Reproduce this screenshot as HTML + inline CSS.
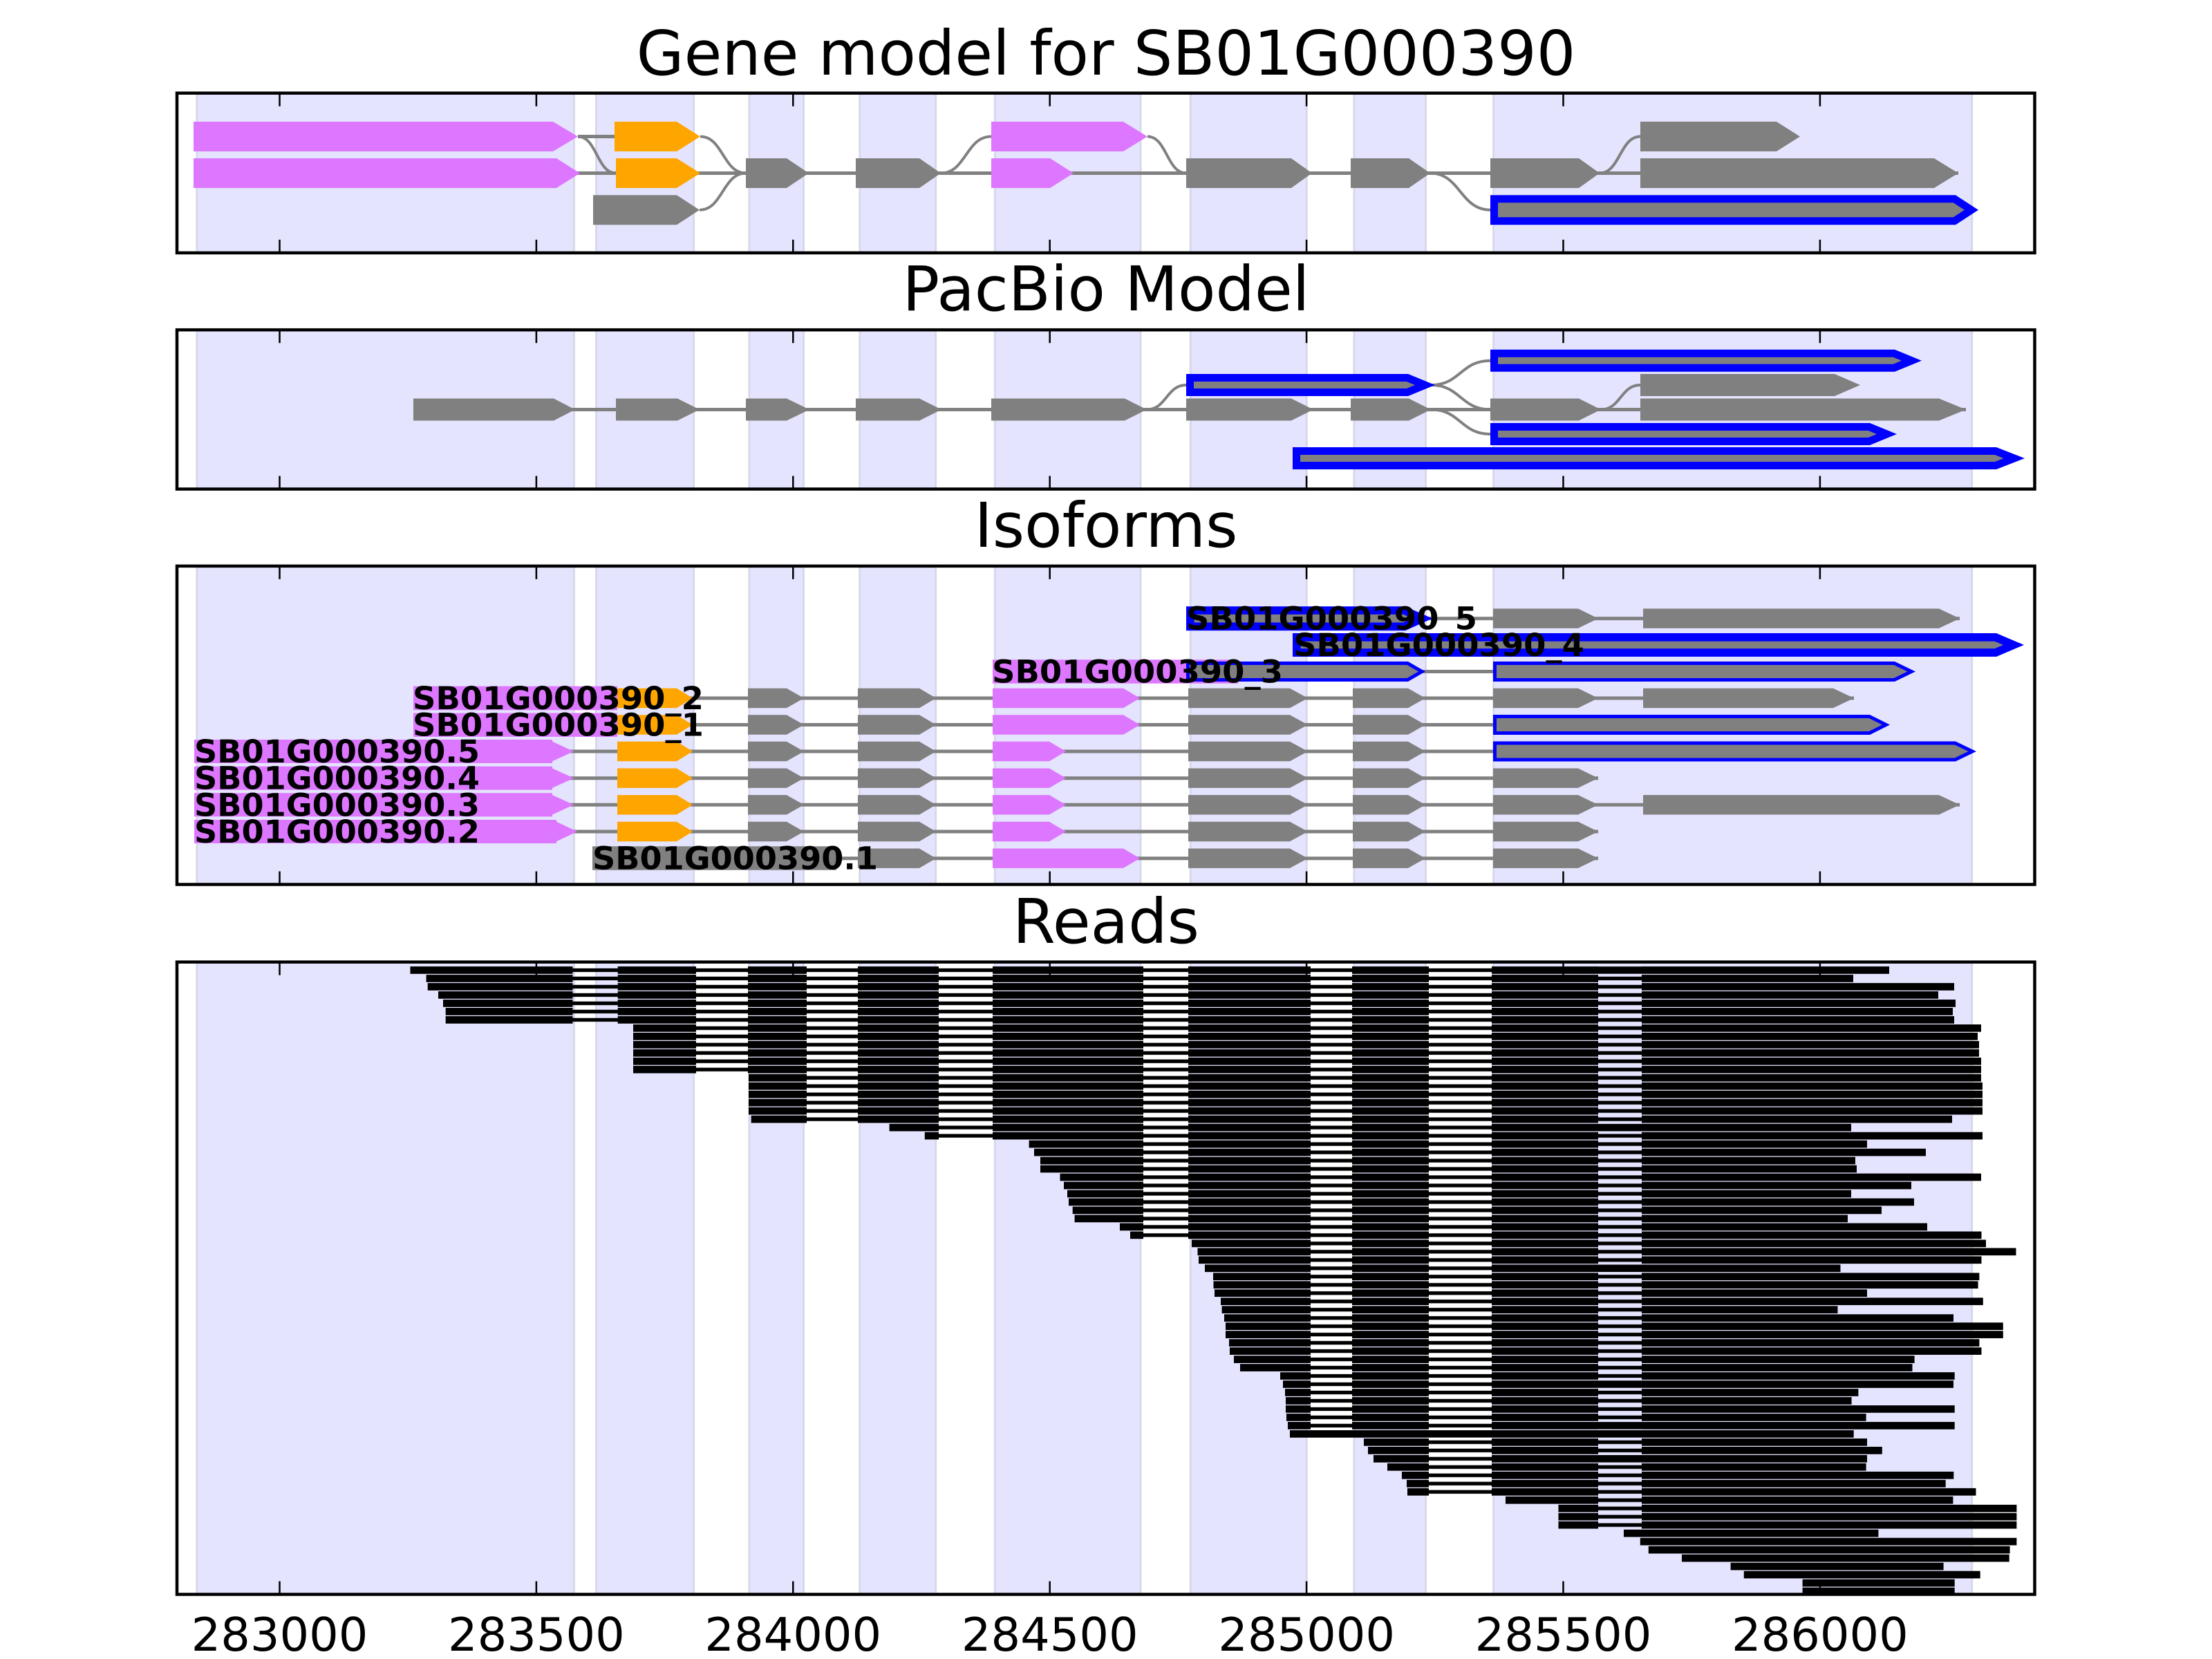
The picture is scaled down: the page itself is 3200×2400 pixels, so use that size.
<!DOCTYPE html>
<html><head><meta charset="utf-8"><style>html,body{margin:0;padding:0;background:#fff}svg{display:block}</style></head>
<body>
<svg xmlns="http://www.w3.org/2000/svg" width="3200" height="2400" viewBox="0 0 3200 2400">
<defs>
<g id="bands" fill="#e4e4fe" stroke="#d8d8ec" stroke-width="3">
<rect x="284.8" y="0" width="545.6" height="2400"/>
<rect x="862.5" y="0" width="141.1" height="2400"/>
<rect x="1083.9" y="0" width="78.6" height="2400"/>
<rect x="1243.8" y="0" width="109.8" height="2400"/>
<rect x="1439.3" y="0" width="210.7" height="2400"/>
<rect x="1722.3" y="0" width="167.9" height="2400"/>
<rect x="1958.9" y="0" width="103.6" height="2400"/>
<rect x="2160.7" y="0" width="692" height="2400"/>
</g>
<clipPath id="c1"><rect x="256" y="134.7" width="2687.5" height="231.1"/></clipPath>
<clipPath id="c2"><rect x="256" y="477.2" width="2687.5" height="230.3"/></clipPath>
<clipPath id="c3"><rect x="256" y="818.9" width="2687.5" height="460.6"/></clipPath>
<clipPath id="c4"><rect x="256" y="1391.7" width="2687.5" height="914.8"/></clipPath>
<g id="isoG" fill="#808080">
<polygon points="1082,-14.2 1138,-14.2 1163,0 1138,14.2 1082,14.2"/>
<polygon points="1241,-14.2 1330,-14.2 1354,0 1330,14.2 1241,14.2"/>
<polygon points="1719,-14.2 1866,-14.2 1892,0 1866,14.2 1719,14.2"/>
<polygon points="1957,-14.2 2037,-14.2 2062,0 2037,14.2 1957,14.2"/>
</g>
<polygon id="isoO" fill="#ffa500" points="893,-14.2 979,-14.2 1002,0 979,14.2 893,14.2"/>
<polygon id="isoML" fill="#dd77ff" points="1436,-14.2 1625,-14.2 1649,0 1625,14.2 1436,14.2"/>
<polygon id="isoMS" fill="#dd77ff" points="1436,-14.2 1518,-14.2 1542,0 1518,14.2 1436,14.2"/>
<polygon id="isoG8" fill="#808080" points="2160,-14.2 2283,-14.2 2312,0 2283,14.2 2160,14.2"/>
<pattern id="ip" patternUnits="userSpaceOnUse" x="0" y="1397.51" width="50" height="11.98">
<rect width="50" height="11.98" fill="#000"/>
<rect y="3.34" width="50" height="5.3" fill="#fff"/>
</pattern>
<mask id="rm" maskUnits="userSpaceOnUse" x="0" y="0" width="3200" height="2400">
<rect width="3200" height="2400" fill="#fff"/>
<rect x="828.5" y="1397.51" width="65.2" height="83.86" fill="url(#ip)"/>
<rect x="1007" y="1397.51" width="75" height="155.74" fill="url(#ip)"/>
<rect x="1167" y="1397.51" width="74" height="227.62" fill="url(#ip)"/>
<rect x="1358" y="1397.51" width="78" height="251.58" fill="url(#ip)"/>
<rect x="1654" y="1397.51" width="65" height="395.34" fill="url(#ip)"/>
<rect x="1896" y="1397.51" width="60" height="670.88" fill="url(#ip)"/>
<rect x="2067" y="1397.51" width="91" height="766.72" fill="url(#ip)"/>
<rect x="2312" y="1397.51" width="63" height="814.64" fill="url(#ip)"/>
<g fill="#fff">
<rect x="2067" y="2069.03" width="91" height="10.7"/>
<rect x="2312" y="1398.15" width="63" height="10.7"/>
<rect x="2312" y="1625.77" width="63" height="10.7"/>
<rect x="2312" y="1829.43" width="63" height="10.7"/>
<rect x="2312" y="1997.15" width="63" height="10.7"/>
<rect x="2312" y="2057.05" width="63" height="10.7"/>
<rect x="2312" y="2069.03" width="63" height="10.7"/>
<rect x="2312" y="2104.97" width="63" height="10.7"/>
</g>
</mask>
</defs>
<rect width="3200" height="2400" fill="#fff"/>

<g font-family="DejaVu Sans, sans-serif" font-size="89" text-anchor="middle" fill="#000">
<text x="1600" y="108">Gene model for SB01G000390</text>
<text x="1600" y="449">PacBio Model</text>
<text x="1600" y="791">Isoforms</text>
<text x="1600" y="1364">Reads</text>
</g>

<use href="#bands" clip-path="url(#c1)"/>
<g fill="none" stroke="#808080">
<path stroke-width="5" d="M836 197.5H889M280 250.5H2833"/>
<path stroke-width="4" d="M836 197.5C863.5 197.5 863.5 250.5 891 250.5M1013 197.5C1046 197.5 1046 250.5 1079 250.5M1012 303.7C1045.5 303.7 1045.5 250.5 1079 250.5M1361 250.5C1397.5 250.5 1397.5 197.5 1434 197.5M1660 197.5C1688 197.5 1688 250.5 1716 250.5M2069 250.5C2112.5 250.5 2112.5 303.7 2156 303.7M2314 250.5C2343.5 250.5 2343.5 197.5 2373 197.5"/>
</g>
<polygon fill="#dd77ff" points="280,176 800,176 836,197.5 800,219 280,219"/>
<polygon fill="#ffa500" points="889,176 979,176 1013,197.5 979,219 889,219"/>
<polygon fill="#dd77ff" points="1434,176 1625,176 1660,197.5 1625,219 1434,219"/>
<polygon fill="#808080" points="2373,176 2570,176 2604,197.5 2570,219 2373,219"/>
<polygon fill="#dd77ff" points="280,229 805,229 839,250.5 805,272 280,272"/>
<polygon fill="#ffa500" points="891,229 979,229 1013,250.5 979,272 891,272"/>
<polygon fill="#808080" points="1079,229 1138,229 1170,250.5 1138,272 1079,272"/>
<polygon fill="#808080" points="1238,229 1330,229 1361,250.5 1330,272 1238,272"/>
<polygon fill="#dd77ff" points="1434,229 1519,229 1553,250.5 1519,272 1434,272"/>
<polygon fill="#808080" points="1716,229 1868,229 1898,250.5 1868,272 1716,272"/>
<polygon fill="#808080" points="1954,229 2038,229 2069,250.5 2038,272 1954,272"/>
<polygon fill="#808080" points="2156,229 2284,229 2314,250.5 2284,272 2156,272"/>
<polygon fill="#808080" points="2373,229 2798,229 2833,250.5 2798,272 2373,272"/>
<polygon fill="#808080" points="858,282.2 979,282.2 1012,303.7 979,325.2 858,325.2"/>
<polygon fill="#0000ff" points="2156,282.2 2829,282.2 2862,303.7 2829,325.2 2156,325.2"/>
<polygon fill="#808080" points="2167,293.2 2825.7,293.2 2841.9,303.7 2825.7,314.2 2167,314.2"/>
<path stroke="#000" stroke-width="2.5" d="M404.5 134.7v19M775.9 134.7v19M1147.3 134.7v19M1518.7 134.7v19M1890.1 134.7v19M2261.5 134.7v19M2632.9 134.7v19M404.5 365.8v-19M775.9 365.8v-19M1147.3 365.8v-19M1518.7 365.8v-19M1890.1 365.8v-19M2261.5 365.8v-19M2632.9 365.8v-19"/>
<rect x="256" y="134.7" width="2687.5" height="231.1" fill="none" stroke="#000" stroke-width="4.5"/>

<use href="#bands" clip-path="url(#c2)"/>
<g fill="none" stroke="#808080">
<path stroke-width="5" d="M598 592.5H2844"/>
<path stroke-width="4" d="M1659 592.5C1687.5 592.5 1687.5 557 1716 557M2070 557C2113 557 2113 521.7 2156 521.7M2070 557C2113 557 2113 592.5 2156 592.5M2070 592.5C2113 592.5 2113 628 2156 628M2316 592.5C2344.5 592.5 2344.5 557 2373 557"/>
</g>
<g fill="#808080">
<polygon points="598,576.5 801,576.5 832,592.5 801,608.5 598,608.5"/>
<polygon points="891,576.5 980,576.5 1012,592.5 980,608.5 891,608.5"/>
<polygon points="1079,576.5 1138,576.5 1171,592.5 1138,608.5 1079,608.5"/>
<polygon points="1238,576.5 1330,576.5 1362,592.5 1330,608.5 1238,608.5"/>
<polygon points="1434,576.5 1627,576.5 1659,592.5 1627,608.5 1434,608.5"/>
<polygon points="1716,576.5 1868,576.5 1900,592.5 1868,608.5 1716,608.5"/>
<polygon points="1954,576.5 2038,576.5 2070,592.5 2038,608.5 1954,608.5"/>
<polygon points="2156,576.5 2284,576.5 2316,592.5 2284,608.5 2156,608.5"/>
<polygon points="2373,576.5 2805,576.5 2844,592.5 2805,608.5 2373,608.5"/>
<polygon points="2373,541 2654,541 2691,557 2654,573 2373,573"/>
</g>
<polygon fill="#0000ff" points="1716,541 2037,541 2076,557 2037,573 1716,573"/>
<polygon fill="#808080" points="1727,552 2034.8,552 2047,557 2034.8,562 1727,562"/>
<polygon fill="#0000ff" points="2156,505.7 2741,505.7 2780,521.7 2741,537.7 2156,537.7"/>
<polygon fill="#808080" points="2167,516.7 2738.8,516.7 2751,521.7 2738.8,526.7 2167,526.7"/>
<polygon fill="#0000ff" points="2156,612 2705,612 2744,628 2705,644 2156,644"/>
<polygon fill="#808080" points="2167,623 2702.8,623 2715,628 2702.8,633 2167,633"/>
<polygon fill="#0000ff" points="1870,647 2888,647 2929,663 2888,679 1870,679"/>
<polygon fill="#808080" points="1881,658 2885.9,658 2898.7,663 2885.9,668 1881,668"/>
<path stroke="#000" stroke-width="2.5" d="M404.5 477.2v19M775.9 477.2v19M1147.3 477.2v19M1518.7 477.2v19M1890.1 477.2v19M2261.5 477.2v19M2632.9 477.2v19M404.5 707.5v-19M775.9 707.5v-19M1147.3 707.5v-19M1518.7 707.5v-19M1890.1 707.5v-19M2261.5 707.5v-19M2632.9 707.5v-19"/>
<rect x="256" y="477.2" width="2687.5" height="230.3" fill="none" stroke="#000" stroke-width="4.5"/>

<use href="#bands" clip-path="url(#c3)"/>
<g transform="translate(0,894.7)">
<path d="M2033 0H2835" stroke="#808080" stroke-width="5"/>
<polygon fill="#0000ff" points="1716,-17.5 2033,-17.5 2072,0 2033,17.5 1716,17.5"/>
<polygon fill="#808080" points="1727.7,-5.8 2030.5,-5.8 2043.4,0 2030.5,5.8 1727.7,5.8"/>
<use href="#isoG8"/>
<polygon fill="#808080" points="2377,-14.2 2805,-14.2 2835,0 2805,14.2 2377,14.2"/>
</g>
<g transform="translate(0,933)">
<polygon fill="#0000ff" points="1870,-17 2888,-17 2928,0 2888,17 1870,17"/>
<polygon fill="#808080" points="1881.7,-5.3 2885.6,-5.3 2898.1,0 2885.6,5.3 1881.7,5.3"/>
</g>
<g transform="translate(0,971.5)">
<rect x="1436" y="-17.2" width="355" height="34.4" fill="#dd77ff"/>
<path d="M1716 0H2160" stroke="#808080" stroke-width="5"/>
<polygon fill="#0000ff" points="1716,-14.5 2037,-14.5 2062,0 2037,14.5 1716,14.5"/>
<polygon fill="#808080" points="1721,-9.5 2035.6,-9.5 2052,0 2035.6,9.5 1721,9.5"/>
<polygon fill="#0000ff" points="2160,-14.5 2741,-14.5 2771,0 2741,14.5 2160,14.5"/>
<polygon fill="#808080" points="2165,-9.5 2739.8,-9.5 2759.5,0 2739.8,9.5 2165,9.5"/>
</g>
<g transform="translate(0,1010)">
<rect x="598" y="-17.3" width="295" height="34.6" fill="#dd77ff"/>
<path d="M893 0H2682" stroke="#808080" stroke-width="5"/>
<use href="#isoO"/><use href="#isoG"/><use href="#isoML"/><use href="#isoG8"/>
<polygon fill="#808080" points="2377,-14.2 2652,-14.2 2682,0 2652,14.2 2377,14.2"/>
</g>
<g transform="translate(0,1048.5)">
<rect x="598" y="-17" width="295" height="34.4" fill="#dd77ff"/>
<path d="M893 0H2160" stroke="#808080" stroke-width="5"/>
<use href="#isoO"/><use href="#isoG"/><use href="#isoML"/>
<polygon fill="#0000ff" points="2160,-14.5 2705,-14.5 2734,0 2705,14.5 2160,14.5"/>
<polygon fill="#808080" points="2165,-9.5 2703.8,-9.5 2722.8,0 2703.8,9.5 2165,9.5"/>
</g>
<g transform="translate(0,1087)">
<rect x="281" y="-17" width="518" height="34" fill="#dd77ff"/>
<path d="M799 0H2160" stroke="#808080" stroke-width="5"/>
<polygon fill="#dd77ff" points="281,-14.2 799,-14.2 830,0 799,14.2 281,14.2"/>
<use href="#isoO"/><use href="#isoG"/><use href="#isoMS"/>
<polygon fill="#0000ff" points="2160,-14.5 2829,-14.5 2859,0 2829,14.5 2160,14.5"/>
<polygon fill="#808080" points="2165,-9.5 2827.8,-9.5 2847.5,0 2827.8,9.5 2165,9.5"/>
</g>
<g transform="translate(0,1125.7)">
<rect x="281" y="-17" width="518" height="34" fill="#dd77ff"/>
<path d="M799 0H2312" stroke="#808080" stroke-width="5"/>
<polygon fill="#dd77ff" points="281,-14.2 799,-14.2 830,0 799,14.2 281,14.2"/>
<use href="#isoO"/><use href="#isoG"/><use href="#isoMS"/><use href="#isoG8"/>
</g>
<g transform="translate(0,1164.3)">
<rect x="281" y="-17" width="518" height="34" fill="#dd77ff"/>
<path d="M799 0H2835" stroke="#808080" stroke-width="5"/>
<polygon fill="#dd77ff" points="281,-14.2 799,-14.2 830,0 799,14.2 281,14.2"/>
<use href="#isoO"/><use href="#isoG"/><use href="#isoMS"/><use href="#isoG8"/>
<polygon fill="#808080" points="2377,-14.2 2805,-14.2 2835,0 2805,14.2 2377,14.2"/>
</g>
<g transform="translate(0,1203)">
<rect x="281" y="-17" width="524" height="34" fill="#dd77ff"/>
<path d="M805 0H2312" stroke="#808080" stroke-width="5"/>
<polygon fill="#dd77ff" points="281,-14.2 805,-14.2 835,0 805,14.2 281,14.2"/>
<use href="#isoO"/><use href="#isoG"/><use href="#isoMS"/><use href="#isoG8"/>
</g>
<g transform="translate(0,1241.7)">
<rect x="857" y="-17.4" width="353" height="34.4" fill="#808080"/>
<path d="M857 0H2312" stroke="#808080" stroke-width="5"/>
<polygon fill="#808080" points="857,-14.2 979,-14.2 1002,0 979,14.2 857,14.2"/>
<use href="#isoG"/><use href="#isoML"/><use href="#isoG8"/>
</g>
<g font-family="DejaVu Sans, sans-serif" font-weight="bold" font-size="45" fill="#000">
<text x="1716" y="910.7" textLength="421" lengthAdjust="spacingAndGlyphs">SB01G000390_5</text>
<text x="1871" y="949" textLength="421" lengthAdjust="spacingAndGlyphs">SB01G000390_4</text>
<text x="1435" y="987.5" textLength="421" lengthAdjust="spacingAndGlyphs">SB01G000390_3</text>
<text x="597" y="1026" textLength="421" lengthAdjust="spacingAndGlyphs">SB01G000390_2</text>
<text x="597" y="1064.5" textLength="421" lengthAdjust="spacingAndGlyphs">SB01G000390_1</text>
<text x="281" y="1103" textLength="413" lengthAdjust="spacingAndGlyphs">SB01G000390.5</text>
<text x="281" y="1141.7" textLength="413" lengthAdjust="spacingAndGlyphs">SB01G000390.4</text>
<text x="281" y="1180.3" textLength="413" lengthAdjust="spacingAndGlyphs">SB01G000390.3</text>
<text x="281" y="1219" textLength="413" lengthAdjust="spacingAndGlyphs">SB01G000390.2</text>
<text x="857" y="1257.7" textLength="413" lengthAdjust="spacingAndGlyphs">SB01G000390.1</text>
</g>
<path stroke="#000" stroke-width="2.5" d="M404.5 818.9v19M775.9 818.9v19M1147.3 818.9v19M1518.7 818.9v19M1890.1 818.9v19M2261.5 818.9v19M2632.9 818.9v19M404.5 1279.5v-19M775.9 1279.5v-19M1147.3 1279.5v-19M1518.7 1279.5v-19M1890.1 1279.5v-19M2261.5 1279.5v-19M2632.9 1279.5v-19"/>
<rect x="256" y="818.9" width="2687.5" height="460.6" fill="none" stroke="#000" stroke-width="4.5"/>

<use href="#bands" clip-path="url(#c4)"/>
<g fill="#000" mask="url(#rm)">
<rect x="593.5" y="1398.15" width="2139.5" height="10.7"/>
<rect x="616.6" y="1410.13" width="2064.4" height="10.7"/>
<rect x="618.7" y="1422.11" width="2208.3" height="10.7"/>
<rect x="634" y="1434.09" width="2170" height="10.7"/>
<rect x="641" y="1446.07" width="2188" height="10.7"/>
<rect x="644.7" y="1458.05" width="2180.3" height="10.7"/>
<rect x="644.7" y="1470.03" width="2182.3" height="10.7"/>
<rect x="916" y="1482.01" width="1950" height="10.7"/>
<rect x="916" y="1493.99" width="1945" height="10.7"/>
<rect x="916" y="1505.97" width="1947" height="10.7"/>
<rect x="916" y="1517.95" width="1947" height="10.7"/>
<rect x="916" y="1529.93" width="1950" height="10.7"/>
<rect x="916" y="1541.91" width="1950" height="10.7"/>
<rect x="1083" y="1553.89" width="1783" height="10.7"/>
<rect x="1083" y="1565.87" width="1785" height="10.7"/>
<rect x="1083" y="1577.85" width="1785" height="10.7"/>
<rect x="1083" y="1589.83" width="1785" height="10.7"/>
<rect x="1083" y="1601.81" width="1785" height="10.7"/>
<rect x="1086.7" y="1613.79" width="1737.3" height="10.7"/>
<rect x="1286.6" y="1625.77" width="1391.4" height="10.7"/>
<rect x="1337.8" y="1637.75" width="1530.2" height="10.7"/>
<rect x="1488.6" y="1649.73" width="1212.4" height="10.7"/>
<rect x="1496" y="1661.71" width="1290" height="10.7"/>
<rect x="1505" y="1673.69" width="1179" height="10.7"/>
<rect x="1505" y="1685.67" width="1181" height="10.7"/>
<rect x="1533.5" y="1697.65" width="1332.5" height="10.7"/>
<rect x="1539" y="1709.63" width="1226" height="10.7"/>
<rect x="1544" y="1721.61" width="1134" height="10.7"/>
<rect x="1546" y="1733.59" width="1223" height="10.7"/>
<rect x="1551.7" y="1745.57" width="1170.3" height="10.7"/>
<rect x="1554.6" y="1757.55" width="1118.4" height="10.7"/>
<rect x="1620" y="1769.53" width="1168" height="10.7"/>
<rect x="1635" y="1781.51" width="1231.5" height="10.7"/>
<rect x="1724" y="1793.49" width="1149" height="10.7"/>
<rect x="1732.5" y="1805.47" width="1184" height="10.7"/>
<rect x="1734" y="1817.45" width="1132.5" height="10.7"/>
<rect x="1743" y="1829.43" width="919.5" height="10.7"/>
<rect x="1755" y="1841.41" width="1108.4" height="10.7"/>
<rect x="1755.5" y="1853.39" width="1106.1" height="10.7"/>
<rect x="1757" y="1865.37" width="944" height="10.7"/>
<rect x="1766" y="1877.35" width="1102.8" height="10.7"/>
<rect x="1767.6" y="1889.33" width="890.9" height="10.7"/>
<rect x="1771" y="1901.31" width="1055" height="10.7"/>
<rect x="1773" y="1913.29" width="1124.8" height="10.7"/>
<rect x="1773" y="1925.27" width="1124.8" height="10.7"/>
<rect x="1778" y="1937.25" width="1085.4" height="10.7"/>
<rect x="1779" y="1949.23" width="1087.5" height="10.7"/>
<rect x="1785" y="1961.21" width="984.6" height="10.7"/>
<rect x="1794" y="1973.19" width="972.5" height="10.7"/>
<rect x="1852" y="1985.17" width="975.7" height="10.7"/>
<rect x="1856" y="1997.15" width="970" height="10.7"/>
<rect x="1859" y="2009.13" width="829.4" height="10.7"/>
<rect x="1860" y="2021.11" width="818.6" height="10.7"/>
<rect x="1860" y="2033.09" width="967.7" height="10.7"/>
<rect x="1861" y="2045.07" width="838.6" height="10.7"/>
<rect x="1863" y="2057.05" width="964.7" height="10.7"/>
<rect x="1866" y="2069.03" width="815.7" height="10.7"/>
<rect x="1973" y="2081.01" width="728" height="10.7"/>
<rect x="1979" y="2092.99" width="743.8" height="10.7"/>
<rect x="1987" y="2104.97" width="714" height="10.7"/>
<rect x="2007" y="2116.95" width="692.6" height="10.7"/>
<rect x="2028" y="2128.93" width="798.3" height="10.7"/>
<rect x="2035" y="2140.91" width="779.7" height="10.7"/>
<rect x="2036" y="2152.89" width="822.5" height="10.7"/>
<rect x="2178" y="2164.87" width="647.4" height="10.7"/>
<rect x="2254.5" y="2176.85" width="662.9" height="10.7"/>
<rect x="2254.5" y="2188.83" width="662.9" height="10.7"/>
<rect x="2254.5" y="2200.81" width="662.9" height="10.7"/>
<rect x="2349" y="2212.79" width="368.4" height="10.7"/>
<rect x="2372.8" y="2224.77" width="544.6" height="10.7"/>
<rect x="2384.8" y="2236.75" width="522.8" height="10.7"/>
<rect x="2433" y="2248.73" width="473.7" height="10.7"/>
<rect x="2503.6" y="2260.71" width="308" height="10.7"/>
<rect x="2522.8" y="2272.69" width="341.9" height="10.7"/>
<rect x="2607.6" y="2284.67" width="220.1" height="10.7"/>
<rect x="2607.6" y="2296.65" width="220.1" height="10.7"/>
</g>
<path stroke="#000" stroke-width="2.5" d="M404.5 1391.7v19M775.9 1391.7v19M1147.3 1391.7v19M1518.7 1391.7v19M1890.1 1391.7v19M2261.5 1391.7v19M2632.9 1391.7v19M404.5 2306.5v-19M775.9 2306.5v-19M1147.3 2306.5v-19M1518.7 2306.5v-19M1890.1 2306.5v-19M2261.5 2306.5v-19M2632.9 2306.5v-19"/>
<rect x="256" y="1391.7" width="2687.5" height="914.8" fill="none" stroke="#000" stroke-width="4.5"/>

<g font-family="DejaVu Sans, sans-serif" font-size="67" text-anchor="middle" fill="#000">
<text x="404.5" y="2388">283000</text>
<text x="775.9" y="2388">283500</text>
<text x="1147.3" y="2388">284000</text>
<text x="1518.7" y="2388">284500</text>
<text x="1890.1" y="2388">285000</text>
<text x="2261.5" y="2388">285500</text>
<text x="2632.9" y="2388">286000</text>
</g>
</svg>
</body></html>
